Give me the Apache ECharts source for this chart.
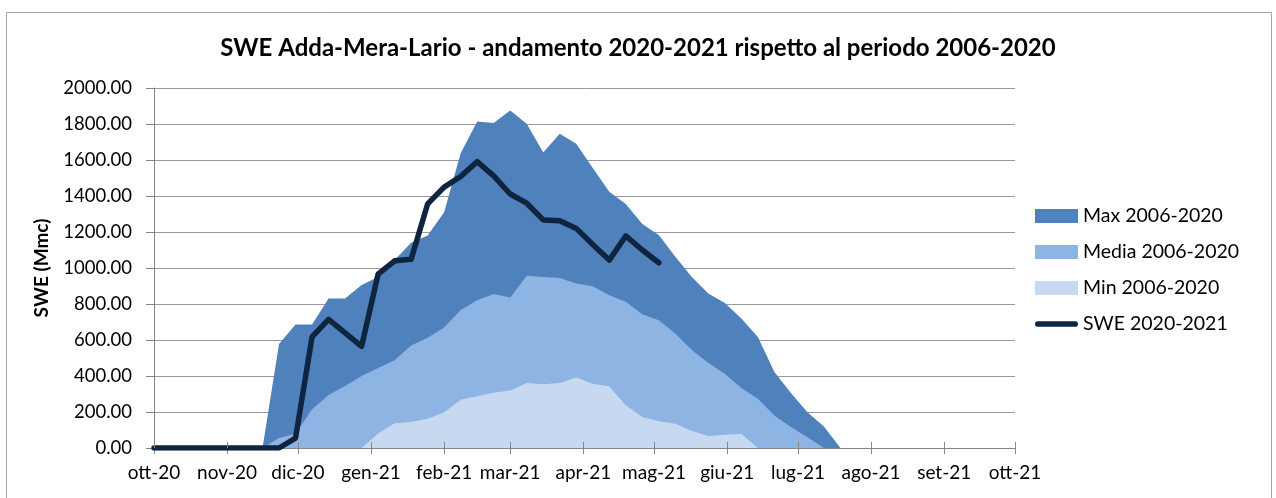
<!DOCTYPE html>
<html>
<head>
<meta charset="utf-8">
<script src="https://cdn.jsdelivr.net/npm/echarts@6/dist/echarts.min.js"></script>
<style>
  html, body { margin: 0; padding: 0; background: #fff; }
  #chart { width: 1276px; height: 498px; }
</style>
</head>
<body>
<div id="chart"></div>
<script>
const tickLabels = ['ott-20','nov-20','dic-20','gen-21','feb-21','mar-21','apr-21','mag-21','giu-21','lug-21','ago-21','set-21','ott-21']

const dates = [
  '2020-10-01','2020-10-05','2020-10-12','2020-10-19','2020-10-26','2020-11-02','2020-11-09','2020-11-16',
  '2020-11-23','2020-11-30','2020-12-07','2020-12-14','2020-12-21','2020-12-28','2021-01-04','2021-01-11',
  '2021-01-18','2021-01-25','2021-02-01','2021-02-08','2021-02-15','2021-02-22','2021-03-01','2021-03-08',
  '2021-03-15','2021-03-22','2021-03-29','2021-04-05','2021-04-12','2021-04-19','2021-04-26','2021-05-03',
  '2021-05-10','2021-05-17','2021-05-24','2021-05-31','2021-06-07','2021-06-14','2021-06-21','2021-06-28',
  '2021-07-05','2021-07-12','2021-07-19'
]
const maxVals = [
  0,0,0,0,0,0,0,0, 578,686,686,831,831,905,950,1044,
  1140,1180,1310,1638,1814,1805,1875,1801, 1641,1746,1690,1555,1424,1356,1244,1183,
  1062,950,858,806,719,617,422,305, 199,120,0
]
const mediaVals = [
  0,0,0,0,0,0,0,0, 55,79,215,295,345,400,445,487,
  570,612,670,766,821,855,836,957, 950,945,914,899,849,812,743,710,
  636,545,472,413,333,274,181,116, 60,0,0
]
const minVals = [
  0,0,0,0,0,0,0,0, 0,0,0,0,0,0,80,138,
  144,163,199,268,287,307,320,361, 354,361,391,357,342,237,172,149,
  135,95,66,73,79,0,0,0, 0,0,0
]
const sweVals = [
  0,0,0,0,0,0,0,0, 0,55,617,714,640,565,966,1040,
  1048,1356,1449,1508,1591,1512,1411,1360, 1267,1263,1220,1131,1044,1178,1100,1029
]

const font = 'Lato, "Open Sans", sans-serif'
const toTs = s => { const [y, m, d] = s.split('-').map(Number); return Date.UTC(y, m - 1, d) }
const monthTicks = tickLabels.map((_, i) => Date.UTC(2020, 9 + i, 1))
const pairs = vals => vals.map((v, i) => [toTs(dates[i]), v])

const areaSeries = (name, vals, color) => ({
  name, type: 'line', data: pairs(vals), symbol: 'none', silent: true,
  lineStyle: { width: 0, color }, itemStyle: { color },
  areaStyle: { color, opacity: 1 }
})

const chart = echarts.init(document.getElementById('chart'))
chart.setOption({
  animation: false,
  textStyle: { fontFamily: font },
  graphic: [{
    type: 'rect', z: -10,
    shape: { x: 6.5, y: 12.5, width: 1265, height: 500 },
    style: { fill: '#fff', stroke: '#a6a6a6', lineWidth: 1 }
  }],
  title: {
    text: 'SWE Adda-Mera-Lario - andamento 2020-2021 rispetto al periodo 2006-2020',
    left: 'center', top: 31,
    textStyle: { fontFamily: font, fontSize: 24, fontWeight: 'bold', color: '#000' }
  },
  grid: { left: 154, right: 261, top: 88, bottom: 50, outerBoundsMode: 'none' },
  legend: {
    orient: 'vertical', left: 1035, top: 206, padding: 0,
    itemWidth: 43, itemHeight: 14, itemGap: 16,
    textStyle: { fontFamily: font, fontSize: 19.5, color: '#000', lineHeight: 20 },
    data: [
      { name: 'Max 2006-2020', icon: 'rect' },
      { name: 'Media 2006-2020', icon: 'rect' },
      { name: 'Min 2006-2020', icon: 'rect' },
      { name: 'SWE 2020-2021', icon: 'path://M3,0 L43,0 A3,3 0 0 1 43,6 L3,6 A3,3 0 0 1 3,0 Z' }
    ]
  },
  xAxis: [{
    type: 'value',
    min: monthTicks[0], max: monthTicks[monthTicks.length - 1],
    axisLine: { lineStyle: { color: '#868686', width: 1 } },
    axisTick: { show: true, length: 6, customValues: monthTicks, lineStyle: { color: '#868686' } },
    axisLabel: {
      customValues: monthTicks, margin: 15, fontFamily: font, fontSize: 19, color: '#000',
      formatter: v => tickLabels[monthTicks.indexOf(+v)] || ''
    },
    splitLine: { show: false }
  }, {
    type: 'value', position: 'bottom', z: 10,
    min: monthTicks[0], max: monthTicks[monthTicks.length - 1],
    axisLine: { show: false },
    axisTick: { show: true, inside: true, length: 6, customValues: monthTicks, lineStyle: { color: '#868686' } },
    axisLabel: { show: false },
    splitLine: { show: false }
  }],
  yAxis: {
    type: 'value', min: 0, max: 2000, interval: 200,
    name: 'SWE (Mmc)', nameLocation: 'middle', nameRotate: 90, nameGap: 103,
    nameTextStyle: { fontFamily: font, fontSize: 19, fontWeight: 'bold', color: '#000' },
    axisLine: { show: true, lineStyle: { color: '#868686' } },
    axisTick: { show: true, length: 8, lineStyle: { color: '#868686' } },
    axisLabel: { margin: 22, fontFamily: font, fontSize: 18.5, color: '#000', formatter: v => v.toFixed(2) },
    splitLine: { lineStyle: { color: '#999', width: 1 } }
  },
  series: [
    areaSeries('Max 2006-2020', maxVals, '#4f81bd'),
    areaSeries('Media 2006-2020', mediaVals, '#8eb4e3'),
    areaSeries('Min 2006-2020', minVals, '#c6d9f1'),
    {
      name: 'SWE 2020-2021', type: 'line', data: pairs(sweVals), symbol: 'none', z: 5,
      lineStyle: { width: 5.5, color: '#0f243e', cap: 'round', join: 'round' },
      itemStyle: { color: '#0f243e' }
    }
  ]
})
</script>
</body>
</html>
